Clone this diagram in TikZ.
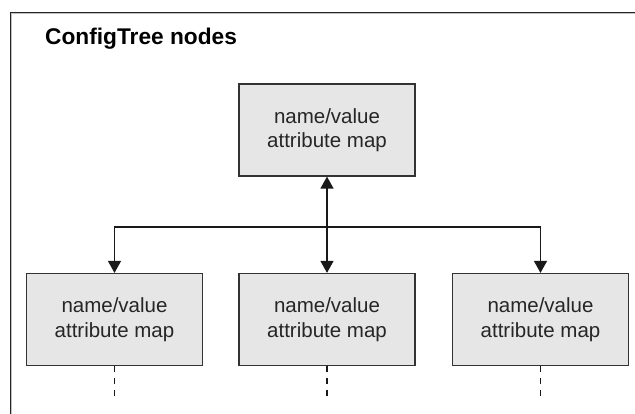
\documentclass[tikz,border=0pt]{standalone}
\usepackage{fontspec}
\setmainfont{Liberation Sans}
\usetikzlibrary{arrows.meta}
\definecolor{boxfill}{HTML}{E6E6E6}
\definecolor{boxline}{HTML}{333333}
\begin{document}
\begin{tikzpicture}[x=1pt,y=-1pt,
  mapbox/.style={draw=boxline,line width=1.2pt,fill=boxfill,minimum width=176pt,minimum height=92pt,
    align=center,font=\fontsize{20.5}{24.5}\selectfont,text=black!85,inner sep=0pt},
  conn/.style={line width=1.2pt,black!90},
  tip/.style={-{Triangle[width=13pt,length=12pt]}},
  dashline/.style={line width=1.2pt,black!90,dash pattern=on 6pt off 6pt}]
\useasboundingbox (0,0) rectangle (635,414);
\begin{scope}
\clip (0,0) rectangle (635,414);
\draw[double=white!75!black,double distance=0.8pt,line width=1pt,black!85] (11,13) rectangle (660,440);
\end{scope}
\node[anchor=base west,font=\fontsize{22.7}{26}\selectfont\bfseries,inner sep=0pt] (title) at (45,45) {ConfigTree nodes};
\node[mapbox] (top) at (327,130) {name/value\\attribute map};
\node[mapbox] (l) at (114.5,319.5) {name/value\\attribute map};
\node[mapbox] (m) at (327,319.5) {name/value\\attribute map};
\node[mapbox] (r) at (540.5,319.5) {name/value\\attribute map};
\coordinate (j) at (327,227);
\draw[conn,{Triangle[width=13pt,length=12pt]}-{Triangle[width=13pt,length=12pt]}] (top.south) -- (m.north);
\draw[conn,tip] (j) -| (l.north);
\draw[conn,tip] (j) -| (r.north);
\coordinate (le) at (114.5,398);
\coordinate (me) at (327,398);
\coordinate (re) at (540.5,398);
\draw[dashline] (l.south) -- (le);
\draw[dashline] (m.south) -- (me);
\draw[dashline] (r.south) -- (re);
\end{tikzpicture}
\end{document}
